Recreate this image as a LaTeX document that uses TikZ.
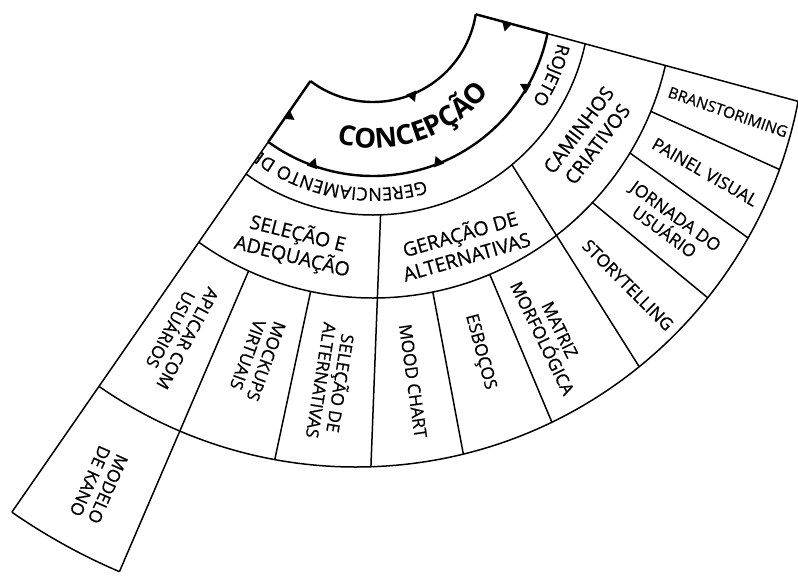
\documentclass[tikz,border=0pt]{standalone}
\usepackage{fontspec}
\setmainfont{Open Sans}
\newfontfamily\labfont{Open Sans}[FakeBold=0.6]
\usetikzlibrary{calc,decorations.text}
\newcommand\fconc{\fontsize{27.5}{27.5}\selectfont\bfseries}
\newcommand\fring{\labfont\fontsize{18}{18}\selectfont}
\newcommand\fmid{\labfont\fontsize{19.5}{23.5}\selectfont}
\newcommand\fcell{\labfont\fontsize{17.3}{19.5}\selectfont}
\newcommand\tickmark[2]{\fill[shift={#1},rotate=#2] (-1,-5.5) -- (9,0) -- (-1,5.5) -- cycle;}
\begin{document}
\begin{tikzpicture}[x=1pt,y=-1pt,line join=round,
  edge/.style={line width=1.5pt},
  thick edge/.style={line width=2.4pt},
  mid label/.style={font=\fmid,align=center,inner sep=0pt},
  cell label/.style={font=\fcell,align=center,inner sep=0pt}]
\useasboundingbox (0,0) rectangle (798,579);
\fill[white] (0,0) rectangle (798,579);
\coordinate (O) at (373,-2);
\coordinate (C) at (356,17);
\coordinate (L1) at ($(O)+(127:104)$);
\coordinate (L2) at ($(C)+(124.8:603)$);
\coordinate (T1) at ($(O)+(9:104)$);
\coordinate (T2) at ($(C)+(10.8:450)$);
\coordinate (A) at (intersection of L1--L2 and T1--T2);
\begin{scope}
\clip (A) -- ($(T1)!3!(T2)$) -- (2000,2000) -- ($(L1)!3!(L2)$) -- cycle;
\draw[thick edge] ($(O)+(0:104)$) arc[start angle=0,end angle=150,radius=104];
\draw[thick edge] ($(O)+(0:178)$) arc[start angle=0,end angle=150,radius=178];
\draw[edge] ($(O)+(0:217)$) arc[start angle=0,end angle=150,radius=217];
\draw[edge] ($(O)+(0:300)$) arc[start angle=0,end angle=150,radius=300];
\draw[edge] ($(C)+(0:450)$) arc[start angle=0,end angle=150,radius=450];
\draw[edge] ($(C)+(113.1:603)$) arc[start angle=113.1,end angle=135,radius=603];
\path[decorate,decoration={text along path,text={|\fring|GERENCIAMENTO DE PROJETO},text align=left}] ($(O)+(74:190)$) arc[start angle=74,end angle=145,radius=190];
\path[decorate,decoration={text along path,text={|\fring|ROJETO},text align=right}] ($(O)+(0:190)$) arc[start angle=0,end angle=33,radius=190];
\end{scope}
% outer edges
\draw[edge] (L1) -- (L2);
\draw[thick edge] (L1) -- ($(L1)!74pt!(L2)$);
\draw[edge] (T1) -- (T2);
\draw[thick edge] (T1) -- ($(T1)!74.5pt!(T2)$);
% dividers
\draw[edge] ($(O)+(114.5:300)$) -- ($(C)+(113.1:603)$);
\draw[edge] ($(O)+(102:300)$) -- ($(C)+(100.4:450)$);
\draw[edge] ($(O)+(88:217)$) -- ($(C)+(88.1:450)$);
\draw[edge] ($(O)+(78.5:300)$) -- ($(C)+(76.2:450)$);
\draw[edge] ($(O)+(67.1:300)$) -- ($(C)+(64.2:450)$);
\draw[edge] ($(O)+(50.2:217)$) -- ($(C)+(51:450)$);
\draw[edge] ($(O)+(43:300)$) -- ($(C)+(38.6:450)$);
\draw[edge] ($(O)+(31.1:300)$) -- ($(C)+(29.4:450)$);
\draw[edge] ($(O)+(22.2:300)$) -- ($(C)+(19.8:450)$);
% tick marks on the conception ring
\tickmark{($(O)+(68:103)$)}{-68}
\tickmark{($(O)+(109.8:179)$)}{70.2}
\tickmark{($(O)+(68.4:179)$)}{111.6}
\tickmark{($(O)+(30.3:179)$)}{149.7}
\tickmark{($(T1)!32.4pt!(T2)$)}{-105}
\tickmark{($(L1)!41pt!(L2)$)}{-34.7}
% labels
\path[decorate,decoration={text along path,text={|\fconc|CONCEPÇÃO},text align=center}] ($(O)+(130:150)$) arc[start angle=130,end angle=13,radius=150];
\node[mid label,rotate=-14] (sel) at (295,245) {SELEÇÃO E\\ADEQUAÇÃO};
\node[mid label,rotate=16] (ger) at (463,244) {GERAÇÃO DE\\ALTERNATIVAS};
\node[mid label,rotate=53] (cam) at (588,137) {CAMINHOS\\CRIATIVOS};
\node[cell label,rotate=-118] (apl) at (179,334) {APLICAR COM\\USUÁRIOS};
\node[cell label,rotate=-110] (moc) at (257,358) {MOCKUPS\\VIRTUAIS};
\node[cell label,rotate=-99] (sdl) at (332,382) {SELEÇÃO DE\\ALTERNATIVAS};
\node[cell label,rotate=-82] (moo) at (413,381) {MOOD CHART};
\node[cell label,rotate=-75] (esb) at (480,352) {ESBOÇOS};
\node[cell label,rotate=-64] (mat) at (551,334) {MATRIZ\\MORFOLÓGICA};
\node[cell label,rotate=-45] (sto) at (628,285) {STORYTELLING};
\node[cell label,rotate=-36] (jor) at (670,224) {JORNADA DO\\USUÁRIO};
\node[cell label,rotate=-30] (pai) at (705,172) {PAINEL VISUAL};
\node[cell label,rotate=-19,font=\labfont\fontsize{15.5}{18}\selectfont] (bra) at (728,112) {BRANSTORIMING};
\node[cell label,rotate=-114] (kan) at (99,485) {MODELO\\DE KANO};
\end{tikzpicture}
\end{document}
